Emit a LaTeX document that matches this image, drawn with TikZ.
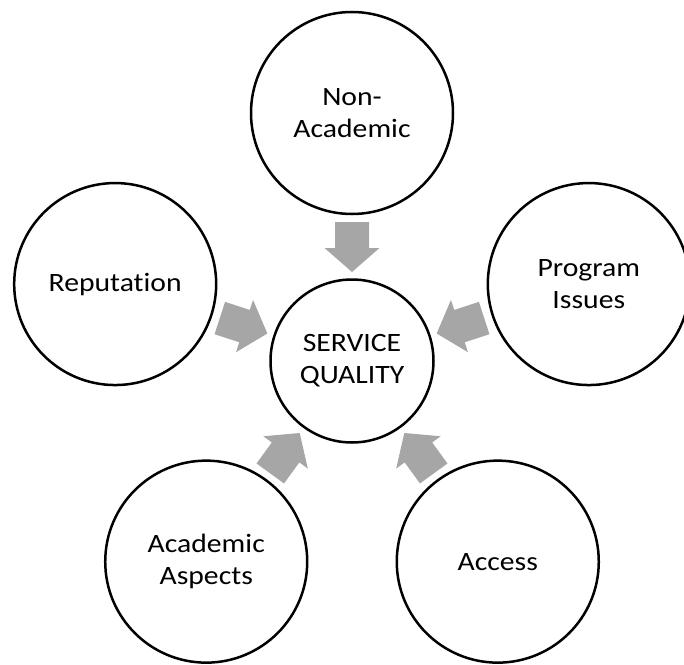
\documentclass[tikz,border=0pt]{standalone}
\usepackage{fontspec}
\setmainfont{Carlito}[FakeStretch=1.12, Ligatures=NoCommon]
\usetikzlibrary{calc}
\definecolor{arrowgray}{HTML}{A6A6A6}
% Block arrow from an outer bubble towards the hub, built along the hub--bubble line
\newcommand\feedarrow[1]{%
  \fill[feed] ($(hub.center)!89pt!(#1.center)$)
    -- ($(hub.center)!113pt!(#1.center)!27.5pt!90:(#1.center)$)
    -- ($(hub.center)!113pt!(#1.center)!17pt!90:(#1.center)$)
    -- ($(hub.center)!139pt!(#1.center)!17pt!90:(#1.center)$)
    -- ($(hub.center)!139pt!(#1.center)!17pt!-90:(#1.center)$)
    -- ($(hub.center)!113pt!(#1.center)!17pt!-90:(#1.center)$)
    -- ($(hub.center)!113pt!(#1.center)!27.5pt!-90:(#1.center)$)
    -- cycle;}
\begin{document}
\begin{tikzpicture}[x=1pt,y=1pt,
  every node/.style={font=\fontsize{26.5}{32}\selectfont},
  bubble/.style={circle, draw=black, line width=2.5pt, fill=white,
    align=center, inner sep=0pt, minimum size=202pt},
  hubbubble/.style={bubble, minimum size=163pt},
  feed/.style={fill=arrowgray}]
\useasboundingbox (-352,-303) rectangle (332,361);

\node[hubbubble] (hub) at (0,0) {SERVICE\\QUALITY};
\node[bubble] (nonacad) at (90:248) {Non-\\Academic};
\node[bubble] (program) at (18:249) {Program\\Issues};
\node[bubble] (reput) at (162:249) {Reputation};
\node[bubble] (acad) at (234:248) {Academic\\Aspects};
\node[bubble] (access) at (306:248) {Access};

\feedarrow{nonacad}
\feedarrow{program}
\feedarrow{reput}
\feedarrow{acad}
\feedarrow{access}
\end{tikzpicture}
\end{document}
